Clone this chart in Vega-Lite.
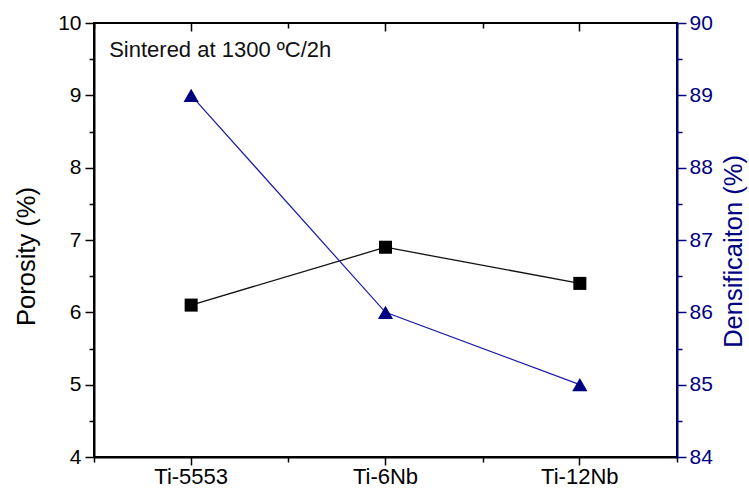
{
  "$schema": "https://vega.github.io/schema/vega-lite/v6.json",
  "width": 583,
  "height": 434,
  "autosize": "none",
  "padding": {"left": 94, "top": 23, "right": 72, "bottom": 34},
  "background": "white",
  "config": {
    "view": {"stroke": "#000000", "strokeWidth": 2},
    "font": "Liberation Sans"
  },
  "data": {"values": [
    {"alloy": "Ti-5553", "porosity": 6.1, "densification": 89},
    {"alloy": "Ti-6Nb", "porosity": 6.9, "densification": 86},
    {"alloy": "Ti-12Nb", "porosity": 6.4, "densification": 85}
  ]},
  "layer": [
    {
      "mark": {"type": "line", "color": "#111111", "strokeWidth": 1.3, "point": {"shape": "square", "size": 170, "filled": true, "color": "#000000", "opacity": 1}},
      "encoding": {
        "x": {"field": "alloy", "type": "nominal", "sort": ["Ti-5553", "Ti-6Nb", "Ti-12Nb"],
          "scale": {"type": "band", "paddingInner": 0, "paddingOuter": 0, "domain": ["Ti-5553", "Ti-6Nb", "Ti-12Nb"]},
          "axis": {"orient": "bottom", "title": null, "labelAngle": 0, "tickSize": 8, "tickWidth": 1.5, "labelPadding": 1, "labelFont": "Liberation Sans", "labelFontSize": 22, "domainWidth": 2, "domainColor": "#000000", "tickColor": "#000000", "labelColor": "#000000"}},
        "y": {"field": "porosity", "type": "quantitative",
          "scale": {"domain": [4, 10], "nice": false, "zero": false},
          "axis": {"orient": "left", "title": "Porosity (%)", "values": [4, 4.5, 5, 5.5, 6, 6.5, 7, 7.5, 8, 8.5, 9, 9.5, 10],
            "labelExpr": "datum.value % 1 === 0 ? format(datum.value, 'd') : ''",
            "tickSize": {"expr": "datum.value % 1 === 0 ? 9 : 5"}, "tickWidth": 1.5, "grid": false,
            "labelFont": "Liberation Sans", "labelFontSize": 21, "titleFont": "Liberation Sans", "titleFontSize": 25.5, "titleFontWeight": "normal",
            "titleX": -60, "titleY": 233, "titleBaseline": "alphabetic", "titleAngle": 270, "titleAlign": "center",
            "labelPadding": 4, "domainWidth": 2, "domainColor": "#000000", "tickColor": "#000000", "labelColor": "#000000", "titleColor": "#000000"}}
      }
    },
    {
      "mark": {"type": "line", "color": "#1a1aa6", "strokeWidth": 1.2, "point": {"shape": "triangle-up", "size": 230, "filled": true, "color": "#000080", "opacity": 1}},
      "encoding": {
        "x": {"field": "alloy", "type": "nominal", "sort": ["Ti-5553", "Ti-6Nb", "Ti-12Nb"],
          "axis": {"orient": "top", "title": null, "labels": false, "domain": false, "offset": -8, "tickSize": 8, "tickWidth": 1.5, "tickColor": "#000000"}},
        "y": {"field": "densification", "type": "quantitative",
          "scale": {"domain": [84, 90], "nice": false, "zero": false},
          "axis": {"orient": "right", "title": "Densificaiton (%)", "titleAngle": 270, "titleBaseline": "alphabetic", "titleAlign": "center", "titleX": 64, "titleY": 228,
            "values": [84, 84.5, 85, 85.5, 86, 86.5, 87, 87.5, 88, 88.5, 89, 89.5, 90],
            "labelExpr": "datum.value % 1 === 0 ? format(datum.value, 'd') : ''",
            "tickSize": {"expr": "datum.value % 1 === 0 ? 9 : 5"}, "tickWidth": 1.5, "grid": false,
            "labelFont": "Liberation Sans", "labelFontSize": 21, "titleFont": "Liberation Sans", "titleFontSize": 25.5, "titleFontWeight": "normal",
            "labelPadding": 3, "domainWidth": 2, "domainColor": "#000080", "tickColor": "#000080", "labelColor": "#000080", "titleColor": "#000080"}}
      }
    },
    {
      "mark": {"type": "point", "opacity": 0},
      "encoding": {
        "x": {"field": "alloy", "type": "nominal", "sort": ["Ti-5553", "Ti-6Nb", "Ti-12Nb"],
          "axis": {"orient": "bottom", "title": null, "labels": false, "domain": false, "tickBand": "extent", "tickSize": 5, "tickWidth": 1.5, "tickColor": "#000000"}},
        "y": {"field": "porosity", "type": "quantitative", "scale": {"domain": [4, 10], "nice": false, "zero": false}, "axis": null}
      }
    },
    {
      "mark": {"type": "point", "opacity": 0},
      "encoding": {
        "x": {"field": "alloy", "type": "nominal", "sort": ["Ti-5553", "Ti-6Nb", "Ti-12Nb"],
          "axis": {"orient": "top", "title": null, "labels": false, "domain": false, "tickBand": "extent", "offset": -5, "tickSize": 5, "tickWidth": 1.5, "tickColor": "#000000"}},
        "y": {"field": "porosity", "type": "quantitative", "scale": {"domain": [4, 10], "nice": false, "zero": false}, "axis": null}
      }
    },
    {
      "data": {"values": [{"label": "Sintered at 1300 ºC/2h", "alloy": "Ti-5553", "ypos": 9.53}]},
      "mark": {"type": "text", "align": "left", "baseline": "alphabetic", "fontSize": 22, "font": "Liberation Sans", "color": "#111111"},
      "encoding": {
        "x": {"field": "alloy", "type": "nominal", "bandPosition": 0.078, "axis": null},
        "y": {"field": "ypos", "type": "quantitative", "scale": {"domain": [4, 10], "nice": false, "zero": false}, "axis": null},
        "text": {"field": "label"}
      }
    }
  ],
  "resolve": {"scale": {"y": "independent"}, "axis": {"x": "independent", "y": "independent"}}
}
